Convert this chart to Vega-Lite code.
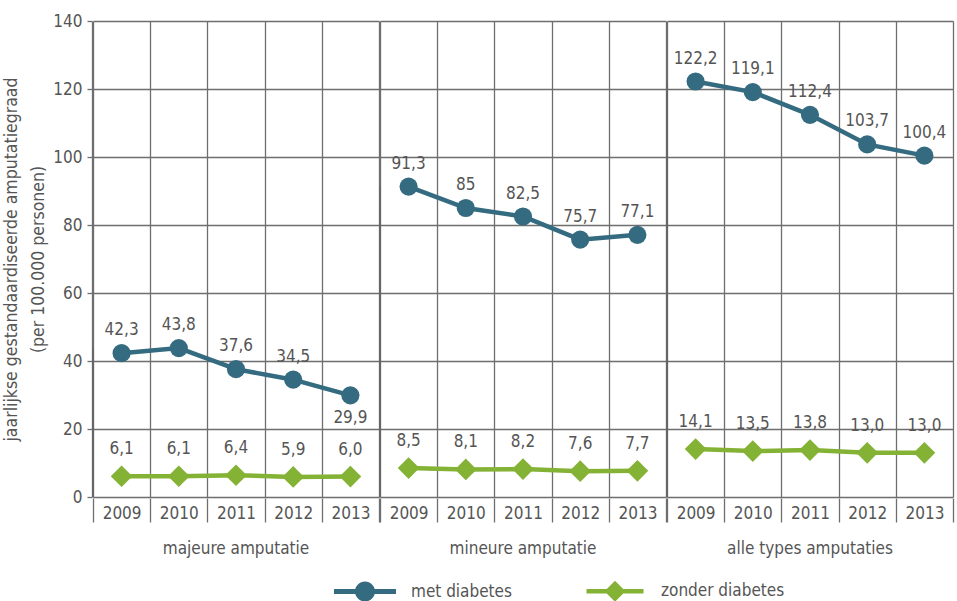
{
  "$schema": "https://vega.github.io/schema/vega-lite/v6.json",
  "background": "white",
  "padding": {"left": 2, "top": 12, "right": 7, "bottom": 2},
  "data": {
    "values": [
      {"group": "majeure amputatie", "year": "2009", "series": "met diabetes", "value": 42.3},
      {"group": "majeure amputatie", "year": "2010", "series": "met diabetes", "value": 43.8},
      {"group": "majeure amputatie", "year": "2011", "series": "met diabetes", "value": 37.6},
      {"group": "majeure amputatie", "year": "2012", "series": "met diabetes", "value": 34.5},
      {"group": "majeure amputatie", "year": "2013", "series": "met diabetes", "value": 29.9},
      {"group": "mineure amputatie", "year": "2009", "series": "met diabetes", "value": 91.3},
      {"group": "mineure amputatie", "year": "2010", "series": "met diabetes", "value": 85},
      {"group": "mineure amputatie", "year": "2011", "series": "met diabetes", "value": 82.5},
      {"group": "mineure amputatie", "year": "2012", "series": "met diabetes", "value": 75.7},
      {"group": "mineure amputatie", "year": "2013", "series": "met diabetes", "value": 77.1},
      {"group": "alle types amputaties", "year": "2009", "series": "met diabetes", "value": 122.2},
      {"group": "alle types amputaties", "year": "2010", "series": "met diabetes", "value": 119.1},
      {"group": "alle types amputaties", "year": "2011", "series": "met diabetes", "value": 112.4},
      {"group": "alle types amputaties", "year": "2012", "series": "met diabetes", "value": 103.7},
      {"group": "alle types amputaties", "year": "2013", "series": "met diabetes", "value": 100.4},
      {"group": "majeure amputatie", "year": "2009", "series": "zonder diabetes", "value": 6.1},
      {"group": "majeure amputatie", "year": "2010", "series": "zonder diabetes", "value": 6.1},
      {"group": "majeure amputatie", "year": "2011", "series": "zonder diabetes", "value": 6.4},
      {"group": "majeure amputatie", "year": "2012", "series": "zonder diabetes", "value": 5.9},
      {"group": "majeure amputatie", "year": "2013", "series": "zonder diabetes", "value": 6.0},
      {"group": "mineure amputatie", "year": "2009", "series": "zonder diabetes", "value": 8.5},
      {"group": "mineure amputatie", "year": "2010", "series": "zonder diabetes", "value": 8.1},
      {"group": "mineure amputatie", "year": "2011", "series": "zonder diabetes", "value": 8.2},
      {"group": "mineure amputatie", "year": "2012", "series": "zonder diabetes", "value": 7.6},
      {"group": "mineure amputatie", "year": "2013", "series": "zonder diabetes", "value": 7.7},
      {"group": "alle types amputaties", "year": "2009", "series": "zonder diabetes", "value": 14.1},
      {"group": "alle types amputaties", "year": "2010", "series": "zonder diabetes", "value": 13.5},
      {"group": "alle types amputaties", "year": "2011", "series": "zonder diabetes", "value": 13.8},
      {"group": "alle types amputaties", "year": "2012", "series": "zonder diabetes", "value": 13.0},
      {"group": "alle types amputaties", "year": "2013", "series": "zonder diabetes", "value": 13.0}
    ]
  },
  "transform": [
    {"calculate": "replace(format(datum.value, datum.series === 'met diabetes' ? '.1~f' : '.1f'), '.', ',')", "as": "label"}
  ],
  "facet": {
    "column": {
      "field": "group",
      "type": "nominal",
      "sort": ["majeure amputatie", "mineure amputatie", "alle types amputaties"],
      "header": {
        "title": null,
        "labelOrient": "bottom",
        "labelFont": "DejaVu Sans Condensed, DejaVu Sans",
        "labelFontSize": 17,
        "labelColor": "#555555",
        "labelPadding": 18
      }
    }
  },
  "spacing": 0,
  "spec": {
    "width": 286,
    "height": 476,
    "encoding": {
      "x": {
        "field": "year",
        "type": "ordinal",
        "scale": {"type": "band", "paddingInner": 0, "paddingOuter": 0},
        "axis": {
          "title": null,
          "labelAngle": 0,
          "tickBand": "extent",
          "grid": true,
          "tickSize": 24,
          "labelPadding": -17,
          "domain": false
        }
      },
      "y": {
        "field": "value",
        "type": "quantitative",
        "scale": {"domain": [0, 140], "nice": false},
        "axis": {
          "values": [0, 20, 40, 60, 80, 100, 120, 140],
          "title": ["jaarlijkse gestandaardiseerde amputatiegraad", "(per 100.000 personen)"],
          "titleLineHeight": 27,
          "tickSize": 5,
          "labelPadding": 5,
          "titlePadding": 5
        }
      },
      "color": {
        "field": "series",
        "type": "nominal",
        "scale": {"domain": ["met diabetes", "zonder diabetes"], "range": ["#346b80", "#84b234"]},
        "legend": {
          "title": null,
          "orient": "none",
          "legendX": 262,
          "legendY": 560,
          "direction": "horizontal",
          "symbolSize": 400,
          "symbolStrokeWidth": 0,
          "symbolOpacity": 1,
          "symbolType": {"expr": "datum.value === 'met diabetes' ? 'M-3.1,-0.25L3.1,-0.25L3.1,0.25L-3.1,0.25ZM-1,0A1,1,0,1,1,1,0A1,1,0,1,1,-1,0Z' : 'M-2.85,-0.22L2.85,-0.22L2.85,0.22L-2.85,0.22ZM0,-1.05L1.05,0L0,1.05L-1.05,0Z'"},
          "labelOffset": 36,
          "columnPadding": 74,
          "labelFontSize": 17
        }
      }
    },
    "layer": [
      {
        "mark": {"type": "rule", "strokeWidth": 1.4},
        "encoding": {
          "x": {"datum": "2009", "type": "ordinal", "bandPosition": 0},
          "color": {"value": "#666666"}
        }
      },
      {
        "mark": {"type": "line", "strokeWidth": 4.5},
        "encoding": {"detail": {"field": "series"}}
      },
      {
        "mark": {
          "type": "point",
          "filled": true,
          "opacity": 1,
          "shape": {"expr": "datum.series === 'met diabetes' ? 'circle' : 'diamond'"},
          "size": {"expr": "datum.series === 'met diabetes' ? 330 : 470"}
        }
      },
      {
        "transform": [{"filter": "!(datum.series === 'met diabetes' && datum.group === 'majeure amputatie' && datum.year === '2013')"}],
        "mark": {"type": "text", "baseline": "middle", "align": "center", "dy": {"expr": "datum.series === 'met diabetes' ? -23 : -27"}, "fontSize": 17},
        "encoding": {"text": {"field": "label"}, "color": {"value": "#555555"}}
      },
      {
        "transform": [{"filter": "datum.series === 'met diabetes' && datum.group === 'majeure amputatie' && datum.year === '2013'"}],
        "mark": {"type": "text", "baseline": "middle", "align": "center", "dy": 23, "fontSize": 17},
        "encoding": {"text": {"field": "label"}, "color": {"value": "#555555"}}
      }
    ]
  },
  "config": {
    "font": "DejaVu Sans Condensed, DejaVu Sans",
    "view": {"stroke": null},
    "axis": {
      "labelFont": "DejaVu Sans Condensed, DejaVu Sans",
      "titleFont": "DejaVu Sans Condensed, DejaVu Sans",
      "labelFontSize": 17,
      "labelColor": "#555555",
      "titleFontSize": 17.5,
      "titleFontWeight": "normal",
      "titleColor": "#555555",
      "gridColor": "#6e6e6e",
      "gridWidth": 1.3,
      "gridOpacity": 1,
      "tickColor": "#6e6e6e",
      "tickWidth": 1.3,
      "domainColor": "#6e6e6e",
      "domainWidth": 1.3
    },
    "legend": {
      "labelFont": "DejaVu Sans Condensed, DejaVu Sans",
      "labelColor": "#555555"
    },
    "text": {"font": "DejaVu Sans Condensed, DejaVu Sans"}
  }
}
